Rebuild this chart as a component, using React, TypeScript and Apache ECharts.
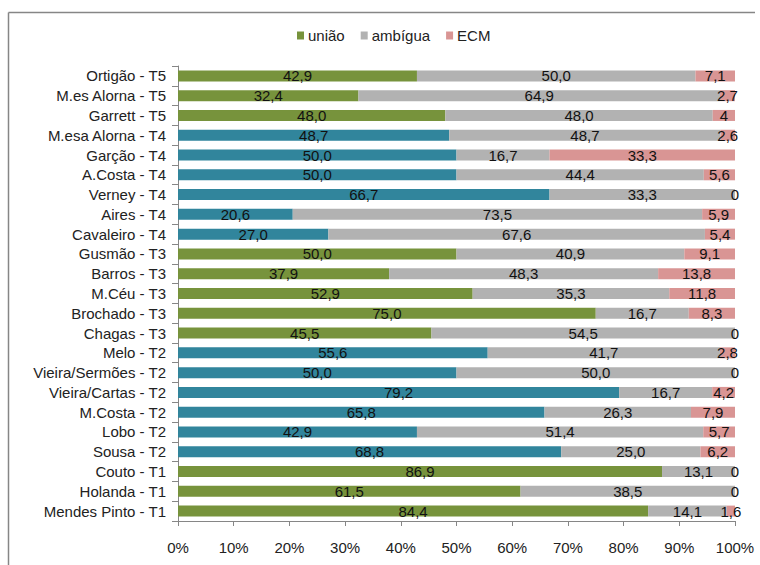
import React, { useEffect, useRef } from "react";
import * as echarts from "echarts";

const categories = [
  "Ortigão - T5",
  "M.es Alorna - T5",
  "Garrett - T5",
  "M.esa Alorna - T4",
  "Garção - T4",
  "A.Costa - T4",
  "Verney - T4",
  "Aires - T4",
  "Cavaleiro - T4",
  "Gusmão - T3",
  "Barros - T3",
  "M.Céu - T3",
  "Brochado - T3",
  "Chagas - T3",
  "Melo - T2",
  "Vieira/Sermões - T2",
  "Vieira/Cartas - T2",
  "M.Costa - T2",
  "Lobo - T2",
  "Sousa - T2",
  "Couto - T1",
  "Holanda - T1",
  "Mendes Pinto - T1",
];

const uniao = [42.9, 32.4, 48.0, 48.7, 50.0, 50.0, 66.7, 20.6, 27.0, 50.0, 37.9, 52.9, 75.0, 45.5, 55.6, 50.0, 79.2, 65.8, 42.9, 68.8, 86.9, 61.5, 84.4];
const ambigua = [50.0, 64.9, 48.0, 48.7, 16.7, 44.4, 33.3, 73.5, 67.6, 40.9, 48.3, 35.3, 16.7, 54.5, 41.7, 50.0, 16.7, 26.3, 51.4, 25.0, 13.1, 38.5, 14.1];
const ecm = [7.1, 2.7, 4, 2.6, 33.3, 5.6, 0, 5.9, 5.4, 9.1, 13.8, 11.8, 8.3, 0, 2.8, 0, 4.2, 7.9, 5.7, 6.2, 0, 0, 1.6];

// Period of each text: T4 and T2 bars are drawn in teal, the others in green
const periods = ["T5", "T5", "T5", "T4", "T4", "T4", "T4", "T4", "T4", "T3", "T3", "T3", "T3", "T3", "T2", "T2", "T2", "T2", "T2", "T2", "T1", "T1", "T1"];

const xTicks = [0, 10, 20, 30, 40, 50, 60, 70, 80, 90, 100];

const GREEN = "#77933C";
const TEAL = "#31859C";
const GRAY = "#B2B2B2";
const PINK = "#D99594";
const AXIS = "#868686";
const FONT = "'Liberation Sans', Arial, sans-serif";

const fmt1 = (v: number) => v.toFixed(1).replace(".", ",");
const fmtEcm = (v: number) => (Number.isInteger(v) ? String(v) : fmt1(v));

export default function App() {
  const ref = useRef<HTMLDivElement>(null);

  useEffect(() => {
    if (!ref.current) return;
    const chart = echarts.init(ref.current, undefined, { renderer: "svg" });

    const labelBase = {
      show: true,
      position: "inside" as const,
      color: "#111",
      fontSize: 15,
      fontFamily: FONT,
    };

    chart.setOption({
      animation: false,
      backgroundColor: "#fff",
      // chart frame: top and left edges, the rest runs off the page
      graphic: [
        {
          type: "line",
          shape: { x1: 8.5, y1: 12.5, x2: 755, y2: 12.5 },
          style: { stroke: AXIS, lineWidth: 1.5 },
          silent: true,
        },
        {
          type: "line",
          shape: { x1: 8.5, y1: 12.5, x2: 8.5, y2: 565 },
          style: { stroke: AXIS, lineWidth: 1.5 },
          silent: true,
        },
      ],
      legend: {
        top: 23,
        left: 292,
        itemWidth: 7,
        itemHeight: 8,
        itemGap: 16,
        icon: "rect",
        textStyle: { fontSize: 15, fontFamily: FONT, color: "#222", padding: [0, 0, 0, -1] },
        data: [
          { name: "união", itemStyle: { color: GREEN } },
          { name: "ambígua", itemStyle: { color: GRAY } },
          { name: "ECM", itemStyle: { color: PINK } },
        ],
      },
      grid: { left: 178, right: 25, top: 66, bottom: 44, containLabel: false },
      xAxis: {
        type: "value",
        min: 0,
        max: 100,
        interval: 10,
        axisLine: { show: true, lineStyle: { color: AXIS } },
        axisTick: { show: true, length: 5, lineStyle: { color: AXIS } },
        splitLine: { show: false },
        axisLabel: {
          formatter: (v: number) => (xTicks.includes(v) ? `${v}%` : ""),
          fontSize: 15,
          fontFamily: FONT,
          color: "#222",
          margin: 19,
        },
      },
      yAxis: {
        type: "category",
        inverse: true,
        data: categories,
        axisLine: { show: true, lineStyle: { color: AXIS } },
        axisTick: { show: true, length: 6, lineStyle: { color: AXIS } },
        axisLabel: { fontSize: 15, fontFamily: FONT, color: "#222", margin: 12 },
      },
      series: [
        {
          name: "união",
          type: "bar",
          stack: "total",
          barWidth: 11,
          data: uniao.map((v, i) => ({
            value: v,
            itemStyle: { color: periods[i] === "T4" || periods[i] === "T2" ? TEAL : GREEN },
          })),
          label: { ...labelBase, formatter: (p: any) => fmt1(p.value) },
        },
        {
          name: "ambígua",
          type: "bar",
          stack: "total",
          barWidth: 11,
          itemStyle: { color: GRAY },
          data: ambigua,
          label: { ...labelBase, formatter: (p: any) => fmt1(p.value) },
        },
        {
          name: "ECM",
          type: "bar",
          stack: "total",
          barWidth: 11,
          itemStyle: { color: PINK },
          data: ecm,
          label: { ...labelBase, formatter: (p: any) => fmtEcm(p.value) },
        },
      ],
    });

    return () => chart.dispose();
  }, []);

  return (
    <div
      ref={ref}
      style={{ position: "fixed", left: 0, top: 0, width: 760, height: 565, overflow: "hidden" }}
    />
  );
}
